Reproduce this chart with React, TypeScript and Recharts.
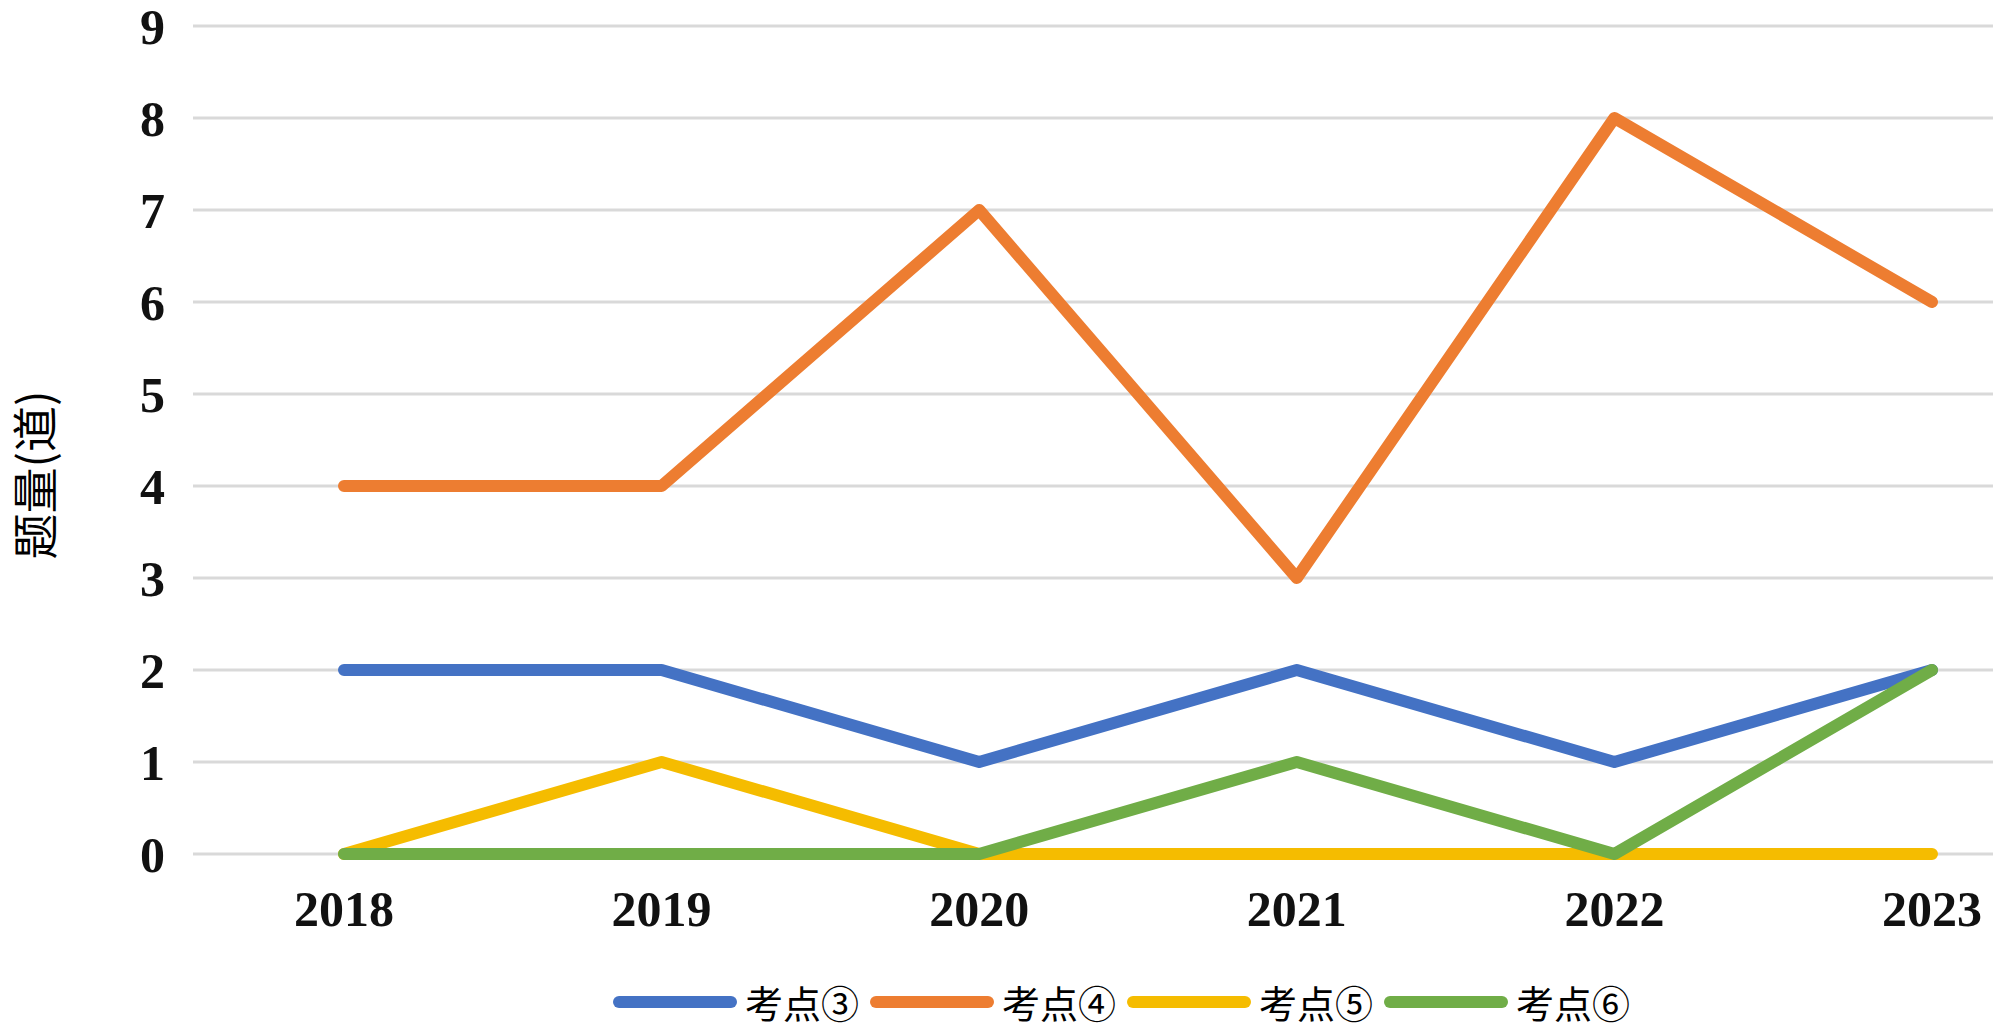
import React from 'react';
import { LineChart, Line, XAxis, YAxis, CartesianGrid, Legend } from 'recharts';

const years = ['2018', '2019', '2020', '2021', '2022', '2023'];
const point3 = [2, 2, 1, 2, 1, 2];
const point4 = [4, 4, 7, 3, 8, 6];
const point5 = [0, 1, 0, 0, 0, 0];
const point6 = [0, 0, 0, 1, 0, 2];
const yTicks = [0, 1, 2, 3, 4, 5, 6, 7, 8, 9];

const series = [
  { key: 'p3', name: '考点③', values: point3, color: '#4472C4' },
  { key: 'p4', name: '考点④', values: point4, color: '#ED7D31' },
  { key: 'p5', name: '考点⑤', values: point5, color: '#F5BC00' },
  { key: 'p6', name: '考点⑥', values: point6, color: '#70AD47' },
];

const data = years.map((year, i) => {
  const row: Record<string, string | number> = { year };
  series.forEach((s) => {
    row[s.key] = s.values[i];
  });
  return row;
});

const tickFont = {
  fontFamily: '"Liberation Serif", "Times New Roman", serif',
  fontSize: 50,
  fontWeight: 700,
  fill: '#111',
};

const cjkFont = '"Noto Sans CJK SC", sans-serif';

function LegendBox() {
  return (
    <div style={{ display: 'flex', alignItems: 'center', height: 40, paddingLeft: 613 }}>
      {series.map((s) => (
        <div key={s.key} style={{ display: 'flex', alignItems: 'center', width: 257 }}>
          <div style={{ width: 124, height: 12, borderRadius: 6, background: s.color }} />
          <span style={{ marginLeft: 8, fontFamily: cjkFont, fontSize: 38, color: '#000', lineHeight: '40px' }}>
            {s.name}
          </span>
        </div>
      ))}
    </div>
  );
}

export default function App() {
  return (
    <div style={{ position: 'absolute', left: 0, top: 0, width: 2000, height: 1028, background: '#fff' }}>
      <LineChart width={2000} height={1028} data={data} margin={{ top: 26, right: 7, bottom: 14, left: 43 }}>
        <CartesianGrid vertical={false} stroke="#d9d9d9" strokeWidth={3} />
        <XAxis
          dataKey="year"
          axisLine={false}
          tickLine={false}
          height={120}
          tickMargin={30}
          padding={{ left: 151, right: 61 }}
          tick={tickFont}
        />
        <YAxis
          domain={[0, 9]}
          ticks={yTicks}
          interval={0}
          axisLine={false}
          tickLine={false}
          width={150}
          tickMargin={22}
          tick={tickFont}
          label={() => (
            <text
              x={32}
              y={475}
              transform="rotate(-90 32 475)"
              textAnchor="middle"
              dominantBaseline="central"
              style={{ fontFamily: cjkFont, fontSize: 46, fill: '#000' }}
            >
              题量(道)
            </text>
          )}
        />
        <Legend
          verticalAlign="bottom"
          content={() => <LegendBox />}
          wrapperStyle={{ top: 982, left: 0, width: 2000, height: 40 }}
        />
        {series.map((s) => (
          <Line
            key={s.key}
            type="linear"
            dataKey={s.key}
            name={s.name}
            stroke={s.color}
            strokeWidth={12}
            strokeLinecap="round"
            strokeLinejoin="round"
            dot={false}
            activeDot={false}
            isAnimationActive={false}
          />
        ))}
      </LineChart>
    </div>
  );
}
